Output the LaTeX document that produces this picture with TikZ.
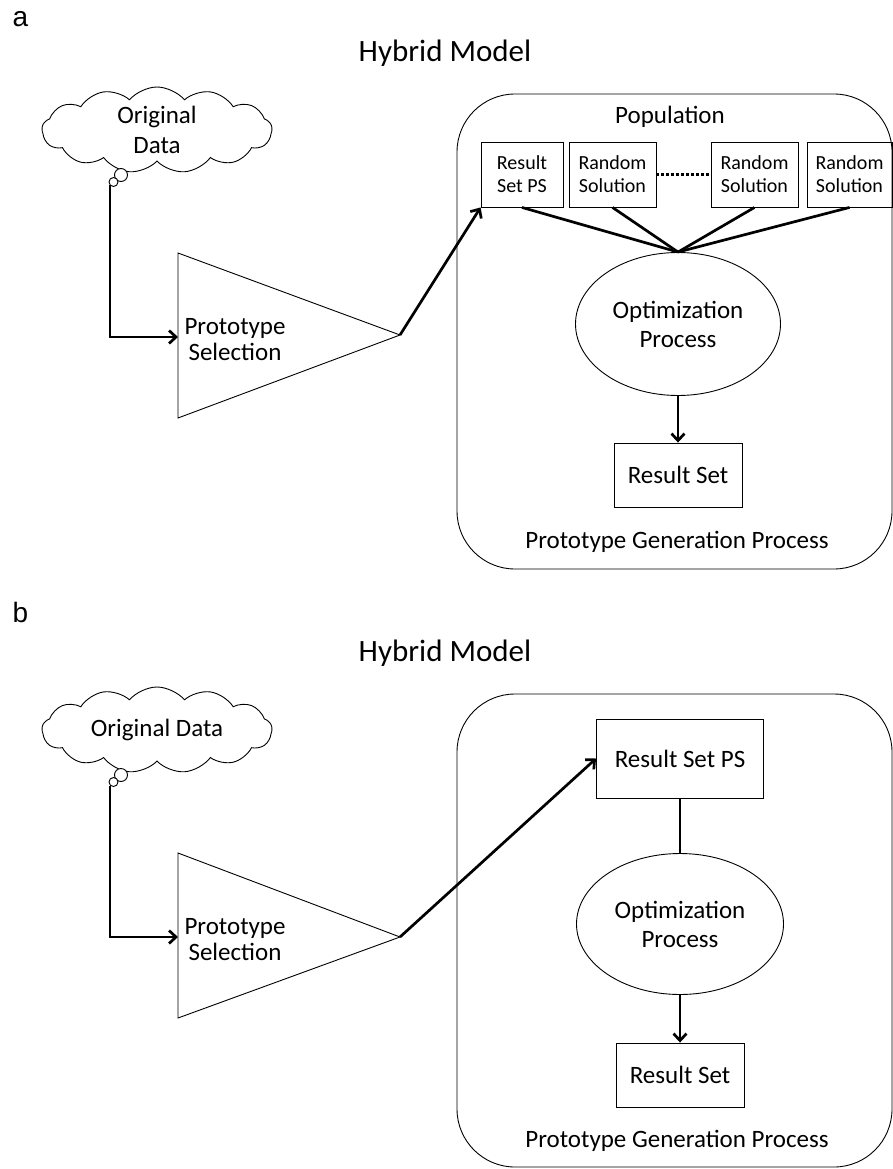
\documentclass[tikz,border=0pt]{standalone}
\usepackage{fontspec}
\setmainfont{Carlito}
\newfontfamily\labelfont{Liberation Sans}
\usetikzlibrary{shapes}
\usetikzlibrary {arrows.meta}

\tikzset{
  thinline/.style={line width=0.9pt},
  smallbox/.style={rectangle,draw,thinline,align=center,inner sep=0pt,font=\fontsize{20}{23}\selectfont},
  bigbox/.style={rectangle,draw,thinline,align=center,inner sep=0pt,font=\fontsize{25}{29}\selectfont},
  txt/.style={font=\fontsize{25}{29}\selectfont,align=center},
  datacloud/.style={cloud,cloud puffs=13,cloud puff arc=100,cloud ignores aspect,draw,thinline,minimum width=230pt,minimum height=86pt,inner sep=0pt},
  link/.style={line width=2.7pt},
  arr/.style={line width=2.7pt,-{Straight Barb[length=7pt,width=13pt]}},
  panel/.style={anchor=base west,font=\labelfont\fontsize{28}{30}\selectfont},
}

\begin{document}
\begin{tikzpicture}[x=1pt,y=-1pt]
\useasboundingbox (0,0) rectangle (892,1169);

% ---- panel a
\node[panel] (lblA) at (9,27) {a};
\node[font=\fontsize{31}{36}\selectfont] (titleA) at (445,53) {Hybrid Model};

\node[datacloud,txt,font=\fontsize{25}{30}\selectfont] (dataA) at (157,130) {Original\\Data};
\node[circle,draw,thinline,fill=white,minimum size=13pt,inner sep=0pt] (bubA) at (121,175) {};
\node[circle,draw,thinline,fill=white,minimum size=9pt,inner sep=0pt] (knobA) at (113.5,182) {};

\draw[thinline] (178,253) -- (400,335) coordinate (tipA) -- (178,418) -- cycle;
\coordinate (inA) at (178,337);
\node[txt,font=\fontsize{25}{26}\selectfont] (selA) at (235,340) {Prototype\\Selection};
\draw[arr] (knobA.south west) |- (inA);

\draw[thinline,rounded corners=58pt] (457,94) rectangle (892,569);
\node[txt] (popA) at (670,117) {Population};

\node[smallbox,minimum width=82pt,minimum height=65pt] (psA) at (522,174.5) {Result\\Set PS};
\node[smallbox,minimum width=87pt,minimum height=65pt] (randA1) at (612.5,174.5) {Random\\Solution};
\node[smallbox,minimum width=87pt,minimum height=65pt] (randA2) at (754.5,174.5) {Random\\Solution};
\node[smallbox,minimum width=85pt,minimum height=65pt] (randA3) at (849.5,174.5) {Random\\Solution};
\draw[line width=2.2pt,dash pattern=on 2.2pt off 2.8pt] (randA1) -- (randA2);

\node[ellipse,draw,thinline,minimum width=205pt,minimum height=143pt,inner sep=0pt,txt] (optA) at (678,324) {Optimization\\Process};
\foreach \b in {psA,randA1,randA2,randA3}
  \draw[link] (\b.south) -- (optA.north);

\node[bigbox,minimum width=128pt,minimum height=64pt] (resA) at (678,475) {Result Set};
\draw[arr] (optA) -- (resA);
\node[txt] (genA) at (677,542) {Prototype Generation Process};
\draw[arr] (tipA) -- (psA.south west);

% ---- panel b
\node[panel] (lblB) at (9,622) {b};
\node[font=\fontsize{31}{36}\selectfont] (titleB) at (445,653) {Hybrid Model};

\node[datacloud,txt] (dataB) at (157,730) {Original Data};
\node[circle,draw,thinline,fill=white,minimum size=13pt,inner sep=0pt] (bubB) at (121,775) {};
\node[circle,draw,thinline,fill=white,minimum size=9pt,inner sep=0pt] (knobB) at (113.5,782) {};

\draw[thinline] (178,853) -- (400,937) coordinate (tipB) -- (178,1018) -- cycle;
\coordinate (inB) at (178,937);
\node[txt,font=\fontsize{25}{26}\selectfont] (selB) at (235,940) {Prototype\\Selection};
\draw[arr] (knobB.south west) |- (inB);

\draw[thinline,rounded corners=58pt] (457,694) rectangle (892,1167);

\node[bigbox,minimum width=167pt,minimum height=79pt] (psB) at (680,758.5) {Result Set PS};
\node[ellipse,draw,thinline,minimum width=207pt,minimum height=141pt,inner sep=0pt,txt] (optB) at (680,924) {Optimization\\Process};
\draw[link] (psB) -- (optB);

\node[bigbox,minimum width=128pt,minimum height=64pt] (resB) at (680,1075) {Result Set};
\draw[arr] (optB) -- (resB);
\node[txt] (genB) at (677,1141) {Prototype Generation Process};
\draw[arr] (tipB) -- (psB.west);

\end{tikzpicture}
\end{document}
